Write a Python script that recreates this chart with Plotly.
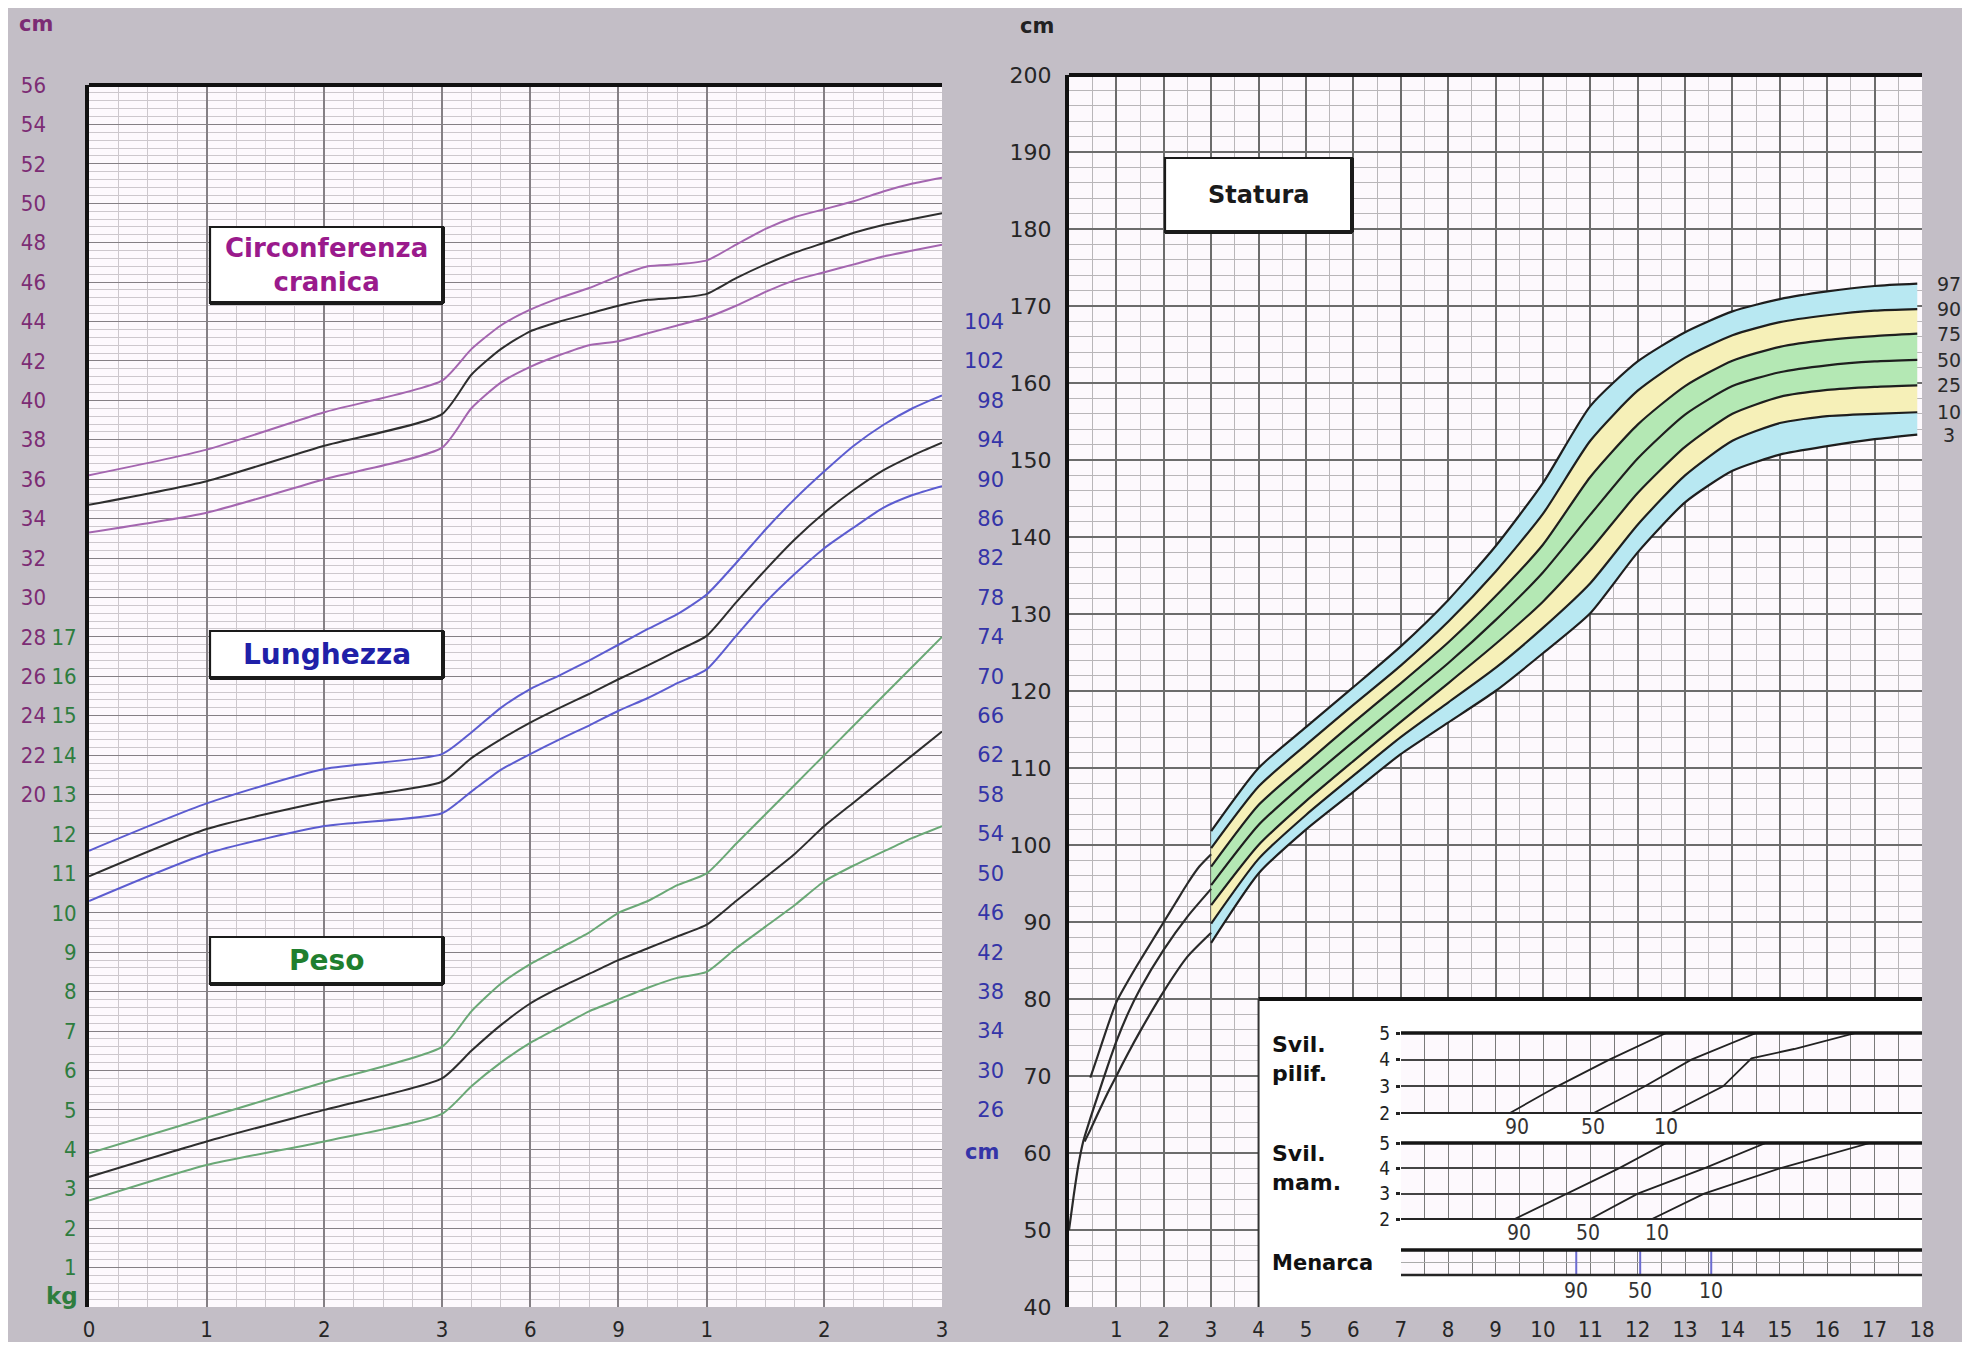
import plotly.graph_objects as go

# page is rendered with an 8px body margin; figure sized so nothing scrolls
W, H = 1954, 1334
OFF = 8

# ---------------- LEFT PANEL DATA (0-36 months) ----------------
age_months = [0, 1, 2, 3, 4, 5, 6, 7, 8, 9, 10, 11, 12, 15, 18, 21, 24, 27, 30, 33, 36]

head_hi = [36.2, 37.5, 39.4, 41.0, 42.6, 43.8, 44.6, 45.2, 45.7, 46.3, 46.8, 46.9, 47.1, 47.9, 48.7, 49.3, 49.7, 50.1, 50.6, 51.0, 51.3]
head_mid = [34.7, 35.9, 37.7, 39.3, 41.3, 42.6, 43.5, 44.0, 44.4, 44.8, 45.1, 45.2, 45.4, 46.2, 46.9, 47.5, 48.0, 48.5, 48.9, 49.2, 49.5]
head_lo = [33.3, 34.3, 36.0, 37.6, 39.6, 40.9, 41.7, 42.3, 42.8, 43.0, 43.4, 43.8, 44.2, 44.8, 45.5, 46.1, 46.5, 46.9, 47.3, 47.6, 47.9]

len_hi = [52.3, 57.1, 60.6, 62.1, 64.3, 66.8, 68.7, 70.1, 71.6, 73.2, 74.8, 76.3, 78.3, 81.5, 84.9, 88.0, 90.8, 93.4, 95.5, 97.2, 98.5]
len_mid = [49.7, 54.5, 57.3, 59.3, 61.7, 63.6, 65.3, 66.8, 68.2, 69.7, 71.1, 72.6, 74.1, 77.5, 80.8, 83.9, 86.6, 88.9, 90.9, 92.4, 93.7]
len_lo = [47.2, 52.0, 54.8, 56.1, 58.3, 60.5, 62.1, 63.6, 65.0, 66.5, 67.8, 69.3, 70.7, 74.1, 77.5, 80.4, 83.0, 85.1, 87.1, 88.4, 89.3]

wt_hi = [3.9, 4.8, 5.7, 6.6, 7.5, 8.2, 8.7, 9.1, 9.5, 10.0, 10.3, 10.7, 11.0, 11.75, 12.5, 13.25, 14.0, 14.75, 15.5, 16.25, 17.0]
wt_mid = [3.3, 4.2, 5.0, 5.8, 6.5, 7.15, 7.7, 8.1, 8.45, 8.8, 9.1, 9.4, 9.7, 10.3, 10.9, 11.5, 12.2, 12.8, 13.4, 14.0, 14.6]
wt_lo = [2.7, 3.6, 4.2, 4.9, 5.6, 6.2, 6.7, 7.1, 7.5, 7.8, 8.1, 8.35, 8.5, 9.1, 9.65, 10.2, 10.8, 11.2, 11.55, 11.9, 12.2]

left_tick_months = [0, 1, 2, 3, 6, 9, 12, 24, 36]
left_tick_labels = ['0', '1', '2', '3', '6', '9', '1', '2', '3']
head_ticks = list(range(20, 57, 2))
kg_ticks = list(range(1, 18))
len_tick_vals = [26, 30, 34, 38, 42, 46, 50, 54, 58, 62, 66, 70, 74, 78, 82, 86, 90, 94, 98, 102, 106]
len_tick_text = ['26', '30', '34', '38', '42', '46', '50', '54', '58', '62', '66', '70', '74', '78',
                 '82', '86', '90', '94', '98', '102', '104']

# ---------------- RIGHT PANEL DATA (Statura, years) ----------------
stat_ages = [3, 4, 5, 6, 7, 8, 9, 10, 11, 12, 13, 14, 15, 16, 17, 17.9]
p97 = [101.8, 110.0, 115.3, 120.5, 125.8, 131.8, 138.8, 147.0, 157.0, 162.8, 166.6, 169.3, 170.9, 171.9, 172.6, 172.9]
p90 = [99.6, 107.6, 113.0, 118.2, 123.3, 129.0, 135.5, 143.0, 152.5, 159.0, 163.3, 166.2, 167.9, 168.8, 169.4, 169.6]
p75 = [97.2, 105.2, 110.6, 115.9, 121.0, 126.3, 132.3, 139.0, 147.8, 154.6, 159.6, 162.9, 164.7, 165.6, 166.1, 166.4]
p50 = [94.8, 102.6, 108.2, 113.4, 118.5, 123.6, 129.2, 135.4, 142.9, 150.2, 155.9, 159.6, 161.4, 162.3, 162.8, 163.0]
p25 = [92.2, 100.0, 105.7, 110.9, 116.0, 121.0, 126.1, 131.6, 138.3, 145.7, 151.7, 156.0, 158.2, 159.1, 159.5, 159.7]
p10 = [89.8, 98.2, 103.9, 109.0, 114.0, 118.5, 123.0, 128.2, 134.0, 141.6, 148.0, 152.5, 154.8, 155.7, 156.0, 156.2]
p3 = [87.3, 96.3, 102.0, 106.9, 111.8, 115.9, 120.0, 124.9, 130.1, 138.0, 144.5, 148.6, 150.7, 151.8, 152.7, 153.3]
pct_names = ['97', '90', '75', '50', '25', '10', '3']

early_ages_hi = [0.45, 0.6, 0.8, 1.0, 1.25, 1.5, 1.75, 2.0, 2.25, 2.5, 2.75, 3.0]
early_hi = [69.8, 72.5, 76.2, 79.6, 82.4, 85.0, 87.5, 90.0, 92.5, 95.0, 97.2, 98.8]
early_ages_mid = [0, 0.1, 0.2, 0.3, 0.45, 0.6, 0.8, 1.0, 1.25, 1.5, 2.0, 2.5, 3.0]
early_mid = [50.0, 54.5, 58.5, 61.5, 64.5, 67.3, 71.0, 74.5, 78.2, 81.3, 86.4, 90.7, 94.3]
early_ages_lo = [0.33, 0.45, 0.6, 0.8, 1.0, 1.25, 1.5, 2.0, 2.5, 3.0]
early_lo = [61.5, 63.0, 65.0, 67.6, 70.0, 73.0, 75.8, 81.0, 85.5, 88.6]

right_x_labels = [str(i) for i in range(1, 19)]
right_y_ticks = list(range(40, 201, 10))

# inset: pubertal development
inset_age_span = [4, 18]
inset_cm_span = [40, 80]
pilif_ages = {'90': [9.3, 10.3, 11.4, 12.6], '50': [11.07, 12.15, 13.13, 14.5], '10': [12.7, 13.8, 14.4, 15.3, 16.6]}
pilif_stage = {'90': [2, 3, 4, 5], '50': [2, 3, 4, 5], '10': [2, 3, 4.05, 4.4, 5]}
mam_ages = {'90': [9.4, 10.5, 11.6, 12.6], '50': [11.0, 12.0, 13.4, 14.7], '10': [12.3, 13.4, 15.0, 16.9]}
mam_stage = {'90': [2, 3, 4, 5], '50': [2, 3, 4, 5], '10': [2, 3, 4, 5]}
pilif_label_ages = [9.45, 11.05, 12.6]
mam_label_ages = [9.5, 10.95, 12.4]
menarca_ages = [10.7, 12.05, 13.55]
pct_small = ['90', '50', '10']
stage_ticks = [2, 3, 4, 5]

# ---------------- STYLE ----------------
NARROW = "DejaVu Sans Condensed, Liberation Sans Narrow, DejaVu Sans, sans-serif"
SANS = "DejaVu Sans, Verdana, sans-serif"
BOLDF = "DejaVu Sans, Verdana, sans-serif"
PAPER = '#c3bec6'
PLOTBG = '#fdf9fd'
MAJ_L, MIN_L = '#858085', '#cdc8cd'
MAJ_R, MIN_R = '#6c6c6c', '#b9b6b9'
C_HEAD_T, C_HEAD_L, C_HEAD_LINE = '#7c2c74', '#9a1a8c', '#a466b0'
C_LEN_T, C_LEN_L, C_LEN_LINE = '#3434a8', '#2020a8', '#5c5cd0'
C_WT_T, C_WT_L, C_WT_LINE = '#2e7d3e', '#1f7f2f', '#6aa876'
C_MID = '#2e2e2e'
CYAN, YELLOW, GREEN = 'rgb(184,232,242)', 'rgb(246,240,184)', 'rgb(180,232,180)'


def px_x(p):
    return (p - OFF) / W


def px_y(p):
    return 1 - (p - OFF) / H


# panel domains (pixel based, reference coordinates)
LX = [px_x(89), px_x(942)]
LY = [px_y(1307), px_y(85)]
RX = [px_x(1069), px_x(1922)]
RY = [px_y(1307), px_y(75)]
IX = [px_x(1401), px_x(1922)]


def month_pos(m):
    if m <= 3:
        return 4 * m
    if m <= 12:
        return m + 9
    return 21 + (m - 12) / 3


xl = [month_pos(m) for m in age_months]

fig = go.Figure()


def add_line(x, y, color, width, xa, ya, shape='spline', **kw):
    fig.add_trace(go.Scatter(x=x, y=y, mode='lines', xaxis=xa, yaxis=ya,
                             line=dict(color=color, width=width, shape=shape, smoothing=0.6),
                             hoverinfo='skip', showlegend=False, **kw))


# left panel curves
for ys, c in [(head_hi, C_HEAD_LINE), (head_mid, C_MID), (head_lo, C_HEAD_LINE)]:
    add_line(xl, ys, c, 2, 'x', 'y3')
for ys, c in [(len_hi, C_LEN_LINE), (len_mid, C_MID), (len_lo, C_LEN_LINE)]:
    add_line(xl, ys, c, 2, 'x', 'y4')
for ys, c in [(wt_hi, C_WT_LINE), (wt_mid, C_MID), (wt_lo, C_WT_LINE)]:
    add_line(xl, ys, c, 2, 'x', 'y')

# white background of the puberty inset (covers the main grid, below the inset subplots)
ax0, ax1 = inset_age_span
cy0, cy1 = inset_cm_span
fig.add_trace(go.Scatter(x=[ax0, ax1, ax1, ax0, ax0], y=[cy0, cy0, cy1, cy1, cy0], mode='lines',
                         fill='toself', fillcolor='white', line=dict(width=0, color='white'),
                         xaxis='x2', yaxis='y2', hoverinfo='skip', showlegend=False))

# right panel percentile band
band = [(p3, None), (p10, CYAN), (p25, YELLOW), (p50, GREEN), (p75, GREEN), (p90, YELLOW), (p97, CYAN)]
for ys, fc in band:
    if fc is None:
        add_line(stat_ages, ys, '#1e1e1e', 2.2, 'x2', 'y2')
    else:
        add_line(stat_ages, ys, '#1e1e1e', 2.2, 'x2', 'y2', fill='tonexty', fillcolor=fc)

for xs, ys in [(early_ages_hi, early_hi), (early_ages_mid, early_mid), (early_ages_lo, early_lo)]:
    add_line(xs, ys, '#2a2a2a', 2.2, 'x2', 'y2')

# inset curves
for k in ['90', '50', '10']:
    add_line(pilif_ages[k], pilif_stage[k], '#222', 1.8, 'x5', 'y5', shape='linear')
    add_line(mam_ages[k], mam_stage[k], '#222', 1.8, 'x6', 'y6', shape='linear')
for a in menarca_ages:
    add_line([a, a], [-0.15, 1], '#6b6bd0', 2, 'x7', 'y7', shape='linear')

# ---------------- AXES ----------------
rows = list(range(0, 32))
layout = dict(
    width=W, height=H, autosize=False, margin=dict(l=0, r=0, t=0, b=0, pad=0),
    paper_bgcolor=PAPER, plot_bgcolor=PLOTBG, showlegend=False,
    xaxis=dict(domain=LX, range=[0, 29], anchor='y', tickmode='array',
               tickvals=[month_pos(m) for m in left_tick_months], ticktext=left_tick_labels,
               showgrid=True, gridcolor=MAJ_L, gridwidth=1.6, zeroline=False, ticks='',
               minor=dict(tickmode='linear', tick0=0, dtick=1, showgrid=True, gridcolor=MIN_L, gridwidth=1),
               tickfont=dict(family=NARROW, size=22, color='#262626'), ticklabelstandoff=7),
    yaxis=dict(domain=LY, range=[0, 31], anchor='x', tickmode='array', tickvals=rows,
               ticktext=[str(r) if r in kg_ticks else '' for r in rows],
               showgrid=True, gridcolor=MAJ_L, gridwidth=1.3, zeroline=False, ticks='',
               minor=dict(tickmode='linear', tick0=0, dtick=0.2, showgrid=True, gridcolor=MIN_L, gridwidth=1),
               showline=True, linewidth=4, linecolor='#111',
               tickfont=dict(family=NARROW, size=22, color=C_WT_T), ticklabelstandoff=4),
    yaxis3=dict(overlaying='y', anchor='free', position=px_x(46), side='left', range=[-6, 56],
                tickmode='array', tickvals=head_ticks, showgrid=False, zeroline=False, ticks='',
                tickfont=dict(family=NARROW, size=22, color=C_HEAD_T)),
    yaxis4=dict(overlaying='y', anchor='free', position=px_x(1004), side='left', range=[6, 130],
                tickmode='array', tickvals=len_tick_vals, ticktext=len_tick_text,
                showgrid=False, zeroline=False, ticks='',
                tickfont=dict(family=SANS, size=21, color=C_LEN_T)),
    xaxis2=dict(domain=RX, range=[0, 18], anchor='y2', tickmode='array', tickvals=list(range(0, 19)),
                ticktext=[''] + right_x_labels, showgrid=True, gridcolor=MAJ_R, gridwidth=1.6,
                zeroline=False, ticks='',
                minor=dict(tickmode='linear', tick0=0, dtick=0.5, showgrid=True, gridcolor=MIN_R, gridwidth=1),
                tickfont=dict(family=NARROW, size=22, color='#262626'), ticklabelstandoff=7),
    yaxis2=dict(domain=RY, range=[40, 200], anchor='x2', tickmode='array', tickvals=right_y_ticks,
                showgrid=True, gridcolor=MAJ_R, gridwidth=1.6, zeroline=False, ticks='',
                minor=dict(tickmode='linear', tick0=40, dtick=2, showgrid=True, gridcolor=MIN_R, gridwidth=1),
                showline=True, linewidth=4, linecolor='#111',
                tickfont=dict(family=SANS, size=22, color='#262626'), ticklabelstandoff=9),
)

inset_dom = {5: [px_y(1113), px_y(1033)], 6: [px_y(1219), px_y(1143)], 7: [px_y(1275), px_y(1250)]}
for i in (5, 6, 7):
    layout['xaxis%d' % i] = dict(domain=IX, range=[7, 18], anchor='y%d' % i, tickmode='linear',
                                 tick0=7, dtick=0.5, showticklabels=False, showgrid=True,
                                 gridcolor='#7a7a7a', gridwidth=1.3, zeroline=False, ticks='')
for i in (5, 6):
    layout['yaxis%d' % i] = dict(domain=inset_dom[i], range=[2, 5], anchor='x%d' % i, tickmode='array',
                                 tickvals=stage_ticks, showgrid=True, gridcolor='#444', gridwidth=1.5,
                                 zeroline=False, ticks='outside', ticklen=4, tickwidth=3, tickcolor='#222',
                                 tickfont=dict(family=NARROW, size=19, color='#222'), ticklabelstandoff=2)
layout['yaxis7'] = dict(domain=inset_dom[7], range=[0, 1], anchor='x7', tickmode='array',
                        tickvals=[0.5], showticklabels=False, showgrid=True, gridcolor='#aaa',
                        zeroline=False, ticks='')
# keep the panels exactly where they are placed: no automatic margin growth
for k, v in layout.items():
    if k.startswith('xaxis') or k.startswith('yaxis'):
        v['automargin'] = False
        v['fixedrange'] = True
fig.update_layout(**layout)

# ---------------- SHAPES ----------------
shapes = []


def box(xref, yref, x0, x1, y0, y1, lw=2.2):
    shapes.append(dict(type='rect', xref=xref, yref=yref, x0=x0, x1=x1, y0=y0, y1=y1,
                       fillcolor='white', line=dict(color='#1a1a1a', width=lw), layer='above'))
    # slightly heavier bottom and right edges (raised-box look)
    shapes.append(dict(type='line', xref=xref, yref=yref, x0=x0, x1=x1, y0=y0, y1=y0,
                       line=dict(color='#1a1a1a', width=4), layer='above'))
    shapes.append(dict(type='line', xref=xref, yref=yref, x0=x1, x1=x1, y0=y0, y1=y1,
                       line=dict(color='#1a1a1a', width=4), layer='above'))


def hline(xref, yref, x0, x1, y, w, color='#111'):
    shapes.append(dict(type='line', xref=xref, yref=yref, x0=x0, x1=x1, y0=y, y1=y,
                       line=dict(color=color, width=w), layer='above'))


# panel top borders
hline('x domain', 'y domain', 0, 1, 1, 4)
hline('x2 domain', 'y2 domain', 0, 1, 1, 4)


def dx(p):
    return (p - 89) / 853


def dy(p):
    return (1307 - p) / 1222


def rdx(p):
    return (p - 1069) / 853


def rdy(p):
    return (1307 - p) / 1232


box('x domain', 'y domain', dx(210), dx(443), dy(303), dy(227))
box('x domain', 'y domain', dx(210), dx(443), dy(678), dy(631))
box('x domain', 'y domain', dx(210), dx(443), dy(984), dy(937))
box('x2 domain', 'y2 domain', rdx(1165), rdx(1352), rdy(232), rdy(158))

# inset frame lines
hline('x2 domain', 'y2 domain', 4 / 18, 1.0, 0.25, 4)
shapes.append(dict(type='line', xref='x2 domain', yref='y2 domain', x0=4 / 18, x1=4 / 18, y0=0, y1=0.25,
                   line=dict(color='#333', width=2), layer='above'))
for i in (5, 6, 7):
    hline('x%d domain' % i, 'y%d domain' % i, 0, 1, 1, 3.5, color='#151515')
    hline('x%d domain' % i, 'y%d domain' % i, 0, 1, 0, 2.5 if i == 7 else 1.8, color='#252525')

fig.update_layout(shapes=shapes)

# ---------------- ANNOTATIONS ----------------
ann = []


def txt(text, x, y, size, color, family=BOLDF, xref='paper', yref='paper', xanchor='center',
        yanchor='middle', align='center', **kw):
    ann.append(dict(text=text, x=x, y=y, xref=xref, yref=yref, xanchor=xanchor, yanchor=yanchor,
                    showarrow=False, align=align, font=dict(family=family, size=size, color=color), **kw))


txt('<b>Circonferenza<br>cranica</b>', (dx(210) + dx(443)) / 2, (dy(303) + dy(227)) / 2, 26, C_HEAD_L,
    xref='x domain', yref='y domain')
txt('<b>Lunghezza</b>', (dx(210) + dx(443)) / 2, (dy(678) + dy(631)) / 2, 28, C_LEN_L,
    xref='x domain', yref='y domain')
txt('<b>Peso</b>', (dx(210) + dx(443)) / 2, (dy(984) + dy(937)) / 2, 28, C_WT_L,
    xref='x domain', yref='y domain')
txt('<b>Statura</b>', (rdx(1165) + rdx(1352)) / 2, (rdy(232) + rdy(158)) / 2, 24, '#1a1a1a',
    xref='x2 domain', yref='y2 domain')

# unit labels
txt('<b>cm</b>', px_x(36), px_y(24), 21, C_HEAD_T)
txt('<b>kg</b>', px_x(62), px_y(1296), 23, C_WT_T)
txt('<b>cm</b>', px_x(1001), px_y(1152), 21, C_LEN_T, xanchor='right')
txt('<b>cm</b>', px_x(1037), px_y(26), 21, '#222')

# percentile labels at right end
for name, ys in zip(pct_names, [p97, p90, p75, p50, p25, p10, p3]):
    txt(name, px_x(1949), ys[-1], 19, '#2a2a2a', family=SANS, yref='y2')

# inset labels
txt('<b>Svil.<br>pilif.</b>', px_x(1270), px_y(1030), 22, '#111', xanchor='left', yanchor='top', align='left')
txt('<b>Svil.<br>mam.</b>', px_x(1270), px_y(1139), 22, '#111', xanchor='left', yanchor='top', align='left')
txt('<b>Menarca</b>', px_x(1270), px_y(1263), 21, '#111', xanchor='left')
for a, n in zip(pilif_label_ages, pct_small):
    txt(n, a, 0, 21, '#333', family=NARROW, xref='x5', yref='y5 domain', yanchor='top')
for a, n in zip(mam_label_ages, pct_small):
    txt(n, a, 0, 21, '#333', family=NARROW, xref='x6', yref='y6 domain', yanchor='top')
for a, n in zip(menarca_ages, pct_small):
    txt(n, a, 0, 21, '#333', family=NARROW, xref='x7', yref='y7 domain', yanchor='top', yshift=-2)

fig.update_layout(annotations=ann)

fig.write_html("out.html")
